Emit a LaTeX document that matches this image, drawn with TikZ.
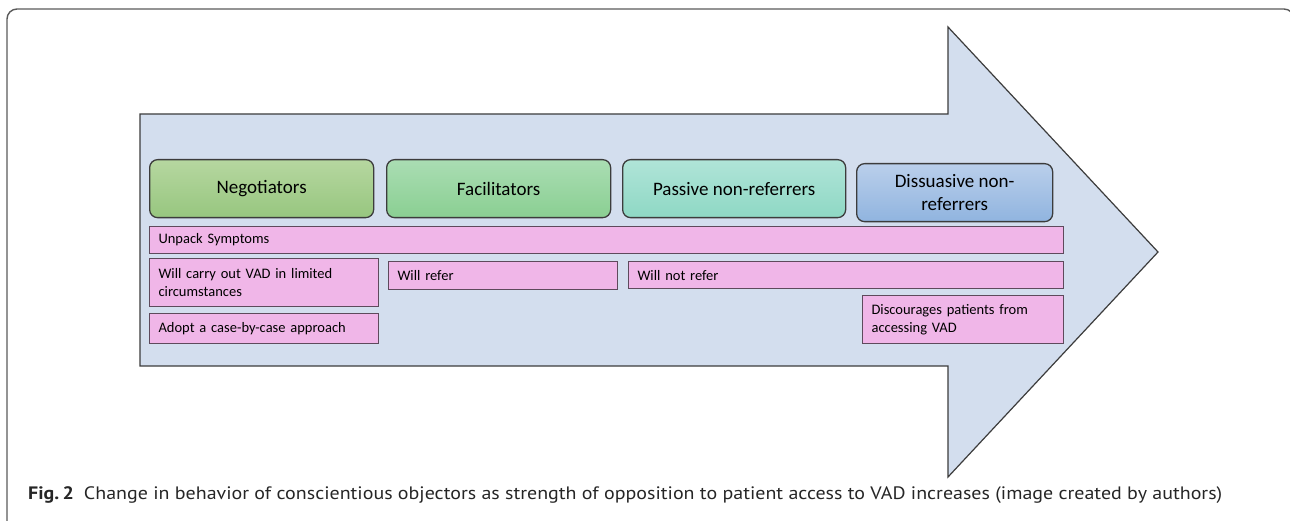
\documentclass[tikz,border=0pt]{standalone}
\usepackage{fontspec}
\usepackage{graphicx}
\setmainfont{Carlito}
\newfontfamily\capfont{PT Sans}
\definecolor{framegray}{HTML}{5A5A5A}
\definecolor{arrowfill}{HTML}{D3DEEE}
\definecolor{edgegray}{HTML}{3C3C3C}
\definecolor{pinkfill}{HTML}{F0B6E8}
\definecolor{pinkedge}{HTML}{5E4A5C}
\definecolor{ngTop}{HTML}{B6D7A0}
\definecolor{ngBot}{HTML}{97C67F}
\definecolor{faTop}{HTML}{AADDB3}
\definecolor{faBot}{HTML}{8ACF92}
\definecolor{paTop}{HTML}{B0E4D8}
\definecolor{paBot}{HTML}{8ED8C4}
\definecolor{diTop}{HTML}{BACFEB}
\definecolor{diBot}{HTML}{90B4DF}
\tikzset{
  header/.style={draw=edgegray, line width=1.3pt, rounded corners=8pt,
    anchor=north west, inner sep=0pt, align=center,
    font=\fontsize{19}{23}\selectfont, text=black},
  bar/.style={draw=pinkedge, fill=pinkfill, line width=1.1pt,
    anchor=north west, inner xsep=9pt, inner ysep=0pt, align=left,
    font=\fontsize{14.5}{18}\selectfont, text=black}
}
\begin{document}
\begin{tikzpicture}[x=1pt,y=-1pt]
\useasboundingbox (0,0) rectangle (1290,521);
\begin{scope}
\clip (0,0) rectangle (1290,521);
\draw[framegray, line width=1.4pt, rounded corners=10pt] (7,9) rectangle (1294,532);
\end{scope}
% big arrow
\draw[edgegray, fill=arrowfill, line width=1.2pt, line join=miter]
  (140,114) -- (948,114) -- (948,27) -- (1158,252) -- (948,477) -- (948,366) -- (140,366) -- cycle;
% headers
\node[header, shading=axis, top color=ngTop, bottom color=ngBot,
  minimum width=224pt, minimum height=58pt] (neg) at (149,159) {Negotiators};
\node[header, shading=axis, top color=faTop, bottom color=faBot,
  minimum width=224pt, minimum height=58pt] (fac) at (386,159) {Facilitators};
\node[header, shading=axis, top color=paTop, bottom color=paBot,
  minimum width=223pt, minimum height=58pt] (pas) at (622,159) {Passive non-referrers};
\node[header, shading=axis, top color=diTop, bottom color=diBot,
  minimum width=196pt, minimum height=58pt] (dis) at (856,163) {Dissuasive non-\\referrers};
% pink bars
\node[bar, text width=896pt, minimum height=27pt] (unp) at (149,226) {Unpack Symptoms};
\node[bar, text width=211pt, minimum height=48pt] (carry) at (149,258) {Will carry out VAD in limited\\circumstances};
\node[bar, text width=211pt, minimum height=30pt] (adopt) at (149,313) {Adopt a case-by-case approach};
\node[bar, text width=211pt, minimum height=28pt] (refer) at (388,261) {Will refer};
\node[bar, text width=417pt, minimum height=27pt] (notrefer) at (628,261) {Will not refer};
\node[bar, text width=183pt, minimum height=48pt] (disc) at (862,295) {Discourages patients from\\accessing VAD};
% caption
\node[anchor=base west, inner sep=0pt, font=\capfont\fontsize{18}{22}\selectfont, text=black!85] (cap) at (28,499)
  {\resizebox{1194pt}{\height}{\textbf{Fig.\,2}\hspace{9pt}Change in behavior of conscientious objectors as strength of opposition to patient access to VAD increases (image created by authors)}};
\end{tikzpicture}
\end{document}
